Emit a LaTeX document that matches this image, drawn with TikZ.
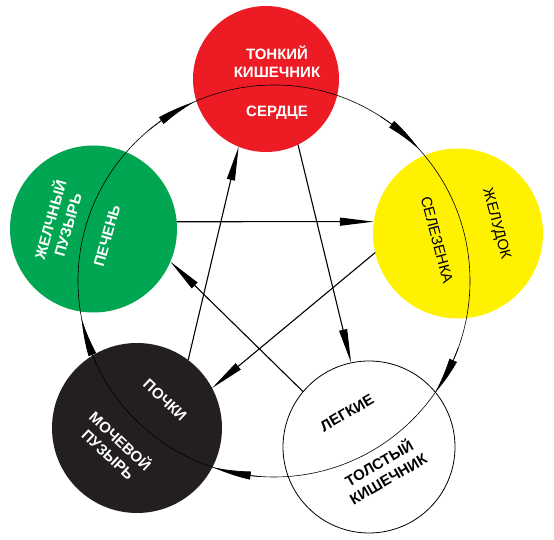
\documentclass[tikz,border=0pt]{standalone}
\usepackage{fontspec}
\setmainfont{Liberation Sans}
\usepackage{tikz}
\usetikzlibrary{arrows.meta,bending,positioning}

\definecolor{fireRed}{HTML}{ED1C24}
\definecolor{woodGreen}{HTML}{00A651}
\definecolor{earthYellow}{HTML}{FFF200}
\definecolor{waterBlack}{HTML}{231F20}

\tikzset{
  organ/.style={circle,inner sep=0pt,outer sep=0pt},
  lbl/.style={align=center,inner sep=0pt,font=\bfseries\fontsize{15}{18}\selectfont},
  lblthin/.style={align=center,inner sep=0pt,font=\fontsize{15}{18}\selectfont},
  ctrl/.style={line width=1.1pt,-{Triangle[length=34pt,width=8pt]}},
  gen/.style={line width=0.7pt,-{Triangle[length=38pt,width=8pt,bend]}}
}

\begin{document}
\begin{tikzpicture}[x=1pt,y=1pt]
\useasboundingbox (0,0) rectangle (554,540);
% elements
\node[organ,fill=fireRed,minimum size=146pt] (fire) at (266,461) {};
\node[organ,fill=woodGreen,minimum size=167pt] (wood) at (93.5,311) {};
\node[organ,fill=earthYellow,minimum size=170pt] (earth) at (458,306.5) {};
\node[organ,fill=waterBlack,minimum size=170pt] (water) at (137,112) {};
\node[organ,draw,line width=0.8pt,fill=white,minimum size=172pt] (metal) at (369,93) {};

% generating cycle
\coordinate (cycle) at (274,259);
\draw[line width=0.6pt] (cycle) circle[radius=196pt];
\draw[gen] ([shift={(130:196pt)}]cycle) arc[start angle=130,end angle=114,radius=196pt];
\draw[gen] ([shift={(57:196pt)}]cycle) arc[start angle=57,end angle=42,radius=196pt];
\draw[gen] ([shift={(-20:196pt)}]cycle) arc[start angle=-20,end angle=-35,radius=196pt];
\draw[gen] ([shift={(266:196pt)}]cycle) arc[start angle=266,end angle=252,radius=196pt];
\draw[gen] ([shift={(205:196pt)}]cycle) arc[start angle=205,end angle=191,radius=196pt];

% control star
\path[ctrl]
  (wood.5) edge (earth.172)
  (earth.193) edge (water.28)
  (water.53) edge (fire.248)
  (fire.296) edge (metal.102)
  (metal.140) edge (wood.337);

% labels
\node[lbl,white] (fireOut) at (277,478) {ТОНКИЙ\\КИШЕЧНИК};
\node[lbl,white] (fireIn) at (277,427) {СЕРДЦЕ};
\node[lbl,white,rotate=74] (woodOut) at (58,318) {ЖЕЛЧНЫЙ\\ПУЗЫРЬ};
\node[lbl,white,rotate=74] (woodIn) at (107,304) {ПЕЧЕНЬ};
\node[lblthin,rotate=-75] (earthIn) at (437,300) {СЕЛЕЗЕНКА};
\node[lblthin,rotate=-75] (earthOut) at (496,316) {ЖЕЛУДОК};
\node[lbl,rotate=30] (metalIn) at (347,127) {ЛЕГКИЕ};
\node[lbl,rotate=30] (metalOut) at (383,70) {ТОЛСТЫЙ\\КИШЕЧНИК};
\node[lbl,white,rotate=-43] (waterIn) at (165,140) {ПОЧКИ};
\node[lbl,white,rotate=-43] (waterOut) at (115,93) {МОЧЕВОЙ\\ПУЗЫРЬ};
\end{tikzpicture}
\end{document}
